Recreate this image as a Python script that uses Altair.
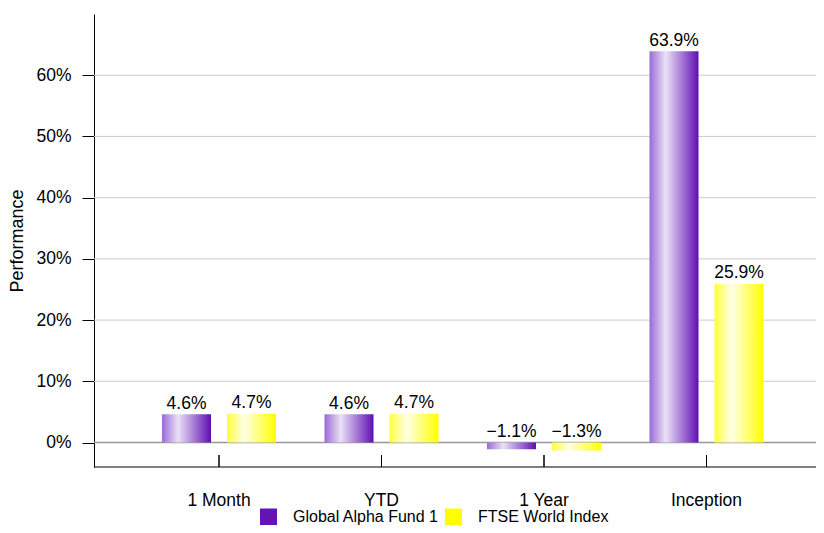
import altair as alt
import pandas as pd

categories = ["1 Month", "YTD", "1 Year", "Inception"]
series_names = ["Global Alpha Fund 1", "FTSE World Index"]
fund_values = [0.046, 0.046, -0.011, 0.639]
index_values = [0.047, 0.047, -0.013, 0.259]
y_tick_values = [0, 0.1, 0.2, 0.3, 0.4, 0.5, 0.6]
legend_colors = ["#6214b4", "#ffff00"]

rows = []
for c, f, i in zip(categories, fund_values, index_values):
    rows.append({"category": c, "series": series_names[0], "v": f})
    rows.append({"category": c, "series": series_names[1], "v": i})
df = pd.DataFrame(rows)
grid_df = pd.DataFrame({"g": y_tick_values[1:]})

FONT = "Liberation Sans"
W, H = 722, 453
STEP = 162.5
X0 = 43.75

purple_grad = alt.Gradient(
    gradient="linear", x1=0, x2=1, y1=0, y2=0,
    stops=[
        alt.GradientStop(offset=0, color="#9a6ad6"),
        alt.GradientStop(offset=0.33, color="#ebe1f7"),
        alt.GradientStop(offset=1, color="#5e0eb2"),
    ],
)
yellow_grad = alt.Gradient(
    gradient="linear", x1=0, x2=1, y1=0, y2=0,
    stops=[
        alt.GradientStop(offset=0, color="#ffff3c"),
        alt.GradientStop(offset=0.35, color="#ffffe6"),
        alt.GradientStop(offset=1, color="#ffff00"),
    ],
)

x_scale = alt.Scale(paddingInner=0, paddingOuter=0, range=[X0, X0 + 4 * STEP])
x_enc = alt.X(
    "category:N", sort=categories, title=None, scale=x_scale,
    axis=alt.Axis(labelAngle=0, tickSize=0, labelPadding=38, labelFontSize=17.5,
                  labelFont=FONT, labelColor="#000", domain=False,
                  labelBaseline="alphabetic", grid=False),
)
xoff_enc = alt.XOffset(
    "series:N", sort=series_names,
    scale=alt.Scale(domain=series_names, paddingInner=0.246, paddingOuter=0.373),
)
y_scale = alt.Scale(domain=[-0.04, 0.70], nice=False, zero=False)
y_enc = alt.Y(
    "v:Q", title="Performance", scale=y_scale,
    axis=alt.Axis(format=".0%", values=y_tick_values, grid=False,
                  tickSize=12, tickColor="#000", domainColor="#000",
                  labelFontSize=17.5, labelFont=FONT, labelColor="#000", labelPadding=11,
                  titleFont=FONT, titleFontSize=18, titleFontWeight="normal",
                  titleColor="#000", titlePadding=9),
)

base = alt.Chart(df)

gridlines = alt.Chart(grid_df).mark_rule(color="#cccccc", strokeWidth=1).encode(
    y=alt.Y("g:Q", scale=y_scale), x=alt.value(0), x2=alt.value(W)
)

bars_fund = base.transform_filter(alt.datum.series == series_names[0]).mark_bar(
    fill=purple_grad
).encode(x=x_enc, xOffset=xoff_enc, y=y_enc, y2=alt.datum(0))

bars_index = base.transform_filter(alt.datum.series == series_names[1]).mark_bar(
    fill=yellow_grad
).encode(x=x_enc, xOffset=xoff_enc, y=y_enc, y2=alt.datum(0))

labels = base.transform_calculate(ly="max(datum.v, 0)").mark_text(
    baseline="alphabetic", dy=-5.5, fontSize=17.5, font=FONT, color="#000"
).encode(
    x=x_enc, xOffset=xoff_enc, y=alt.Y("ly:Q"),
    text=alt.Text("v:Q", format=".1%"),
)

zero_line = base.transform_aggregate(n="count()").transform_calculate(z="0").mark_rule(
    color="#999999", strokeWidth=1.5
).encode(y=alt.Y("z:Q"), x=alt.value(0), x2=alt.value(W))

x_domain_line = base.transform_aggregate(n="count()").mark_rule(
    color="#000", strokeWidth=1
).encode(y=alt.value(H), x=alt.value(0), x2=alt.value(W))

xticks = base.mark_rule(color="#000", strokeWidth=1).encode(
    x=alt.X("category:N", sort=categories),
    y=alt.value(H), y2=alt.value(H - 12),
)

legend_layer = base.transform_filter("datum.v > 100").mark_square(opacity=1, filled=True).encode(
    color=alt.Color(
        "series:N",
        scale=alt.Scale(domain=series_names, range=legend_colors),
        legend=alt.Legend(
            title=None, orient="none", direction="horizontal",
            legendX=166, legendY=494.5,
            symbolType="square", symbolSize=289, symbolStrokeWidth=0,
            symbolOpacity=1,
            labelFont=FONT, labelFontSize=16, labelColor="#000",
            labelOffset=16, columnPadding=6,
        ),
    )
)

chart = alt.layer(
    gridlines, zero_line, bars_fund, bars_index, labels, x_domain_line, xticks, legend_layer
).properties(
    width=W, height=H,
    autosize=alt.AutoSizeParams(type="none"),
    padding={"left": 86, "top": 6, "right": 0, "bottom": 58},
).configure_view(stroke=None).configure_axis(domainWidth=1)

chart.save("out.html", embed_options={"renderer": "svg", "actions": False})
